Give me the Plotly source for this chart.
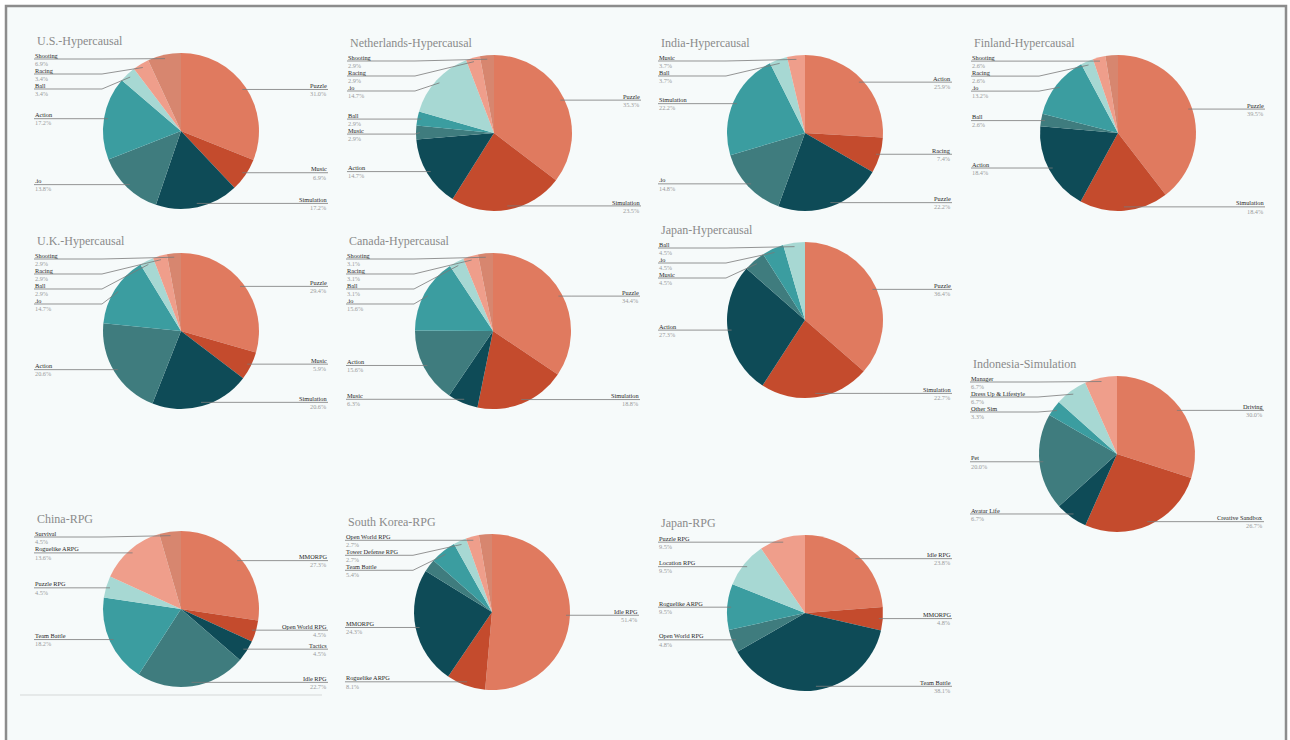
import math
import plotly.graph_objects as go

W, H = 1290, 740

# ---------------- data ----------------
US_LABELS = ["Puzzle", "Music", "Simulation", ".io", "Action", "Ball", "Racing", "Shooting"]
US_VALUES = [31.0, 6.9, 17.2, 13.8, 17.2, 3.4, 3.4, 6.9]

NL_LABELS = ["Puzzle", "Simulation", "Action", "Music", "Ball", ".io", "Racing", "Shooting"]
NL_VALUES = [35.3, 23.5, 14.7, 2.9, 2.9, 14.7, 2.9, 2.9]

IN_LABELS = ["Action", "Racing", "Puzzle", ".io", "Simulation", "Ball", "Music"]
IN_VALUES = [25.9, 7.4, 22.2, 14.8, 22.2, 3.7, 3.7]

FI_LABELS = ["Puzzle", "Simulation", "Action", "Ball", ".io", "Racing", "Shooting", ""]
FI_VALUES = [39.5, 18.4, 18.4, 2.6, 13.2, 2.6, 2.6, 2.6]

UK_LABELS = ["Puzzle", "Music", "Simulation", "Action", ".io", "Ball", "Racing", "Shooting"]
UK_VALUES = [29.4, 5.9, 20.6, 20.6, 14.7, 2.9, 2.9, 2.9]

CA_LABELS = ["Puzzle", "Simulation", "Music", "Action", ".io", "Ball", "Racing", "Shooting"]
CA_VALUES = [34.4, 18.8, 6.3, 15.6, 15.6, 3.1, 3.1, 3.1]

JPH_LABELS = ["Puzzle", "Simulation", "Action", "Music", ".io", "Ball"]
JPH_VALUES = [36.4, 22.7, 27.3, 4.5, 4.5, 4.5]

ID_LABELS = ["Driving", "Creative Sandbox", "Avatar Life", "Pet", "Other Sim",
             "Dress Up & Lifestyle", "Manager"]
ID_VALUES = [30.0, 26.7, 6.7, 20.0, 3.3, 6.7, 6.7]

CN_LABELS = ["MMORPG", "Open World RPG", "Tactics", "Idle RPG", "Team Battle",
             "Puzzle RPG", "Roguelike ARPG", "Survival"]
CN_VALUES = [27.3, 4.5, 4.5, 22.7, 18.2, 4.5, 13.6, 4.5]

KR_LABELS = ["Idle RPG", "Roguelike ARPG", "MMORPG", "", "Team Battle",
             "Tower Defense RPG", "Open World RPG", ""]
KR_VALUES = [51.4, 8.1, 24.3, 2.7, 5.4, 2.7, 2.7, 2.7]

JPR_LABELS = ["Idle RPG", "MMORPG", "Team Battle", "Open World RPG", "Roguelike ARPG",
              "Location RPG", "Puzzle RPG"]
JPR_VALUES = [23.8, 4.8, 38.1, 4.8, 9.5, 9.5, 9.5]

TITLES = ["U.S.-Hypercausal", "Netherlands-Hypercausal", "India-Hypercausal",
          "Finland-Hypercausal", "U.K.-Hypercausal", "Canada-Hypercausal",
          "Japan-Hypercausal", "Indonesia-Simulation", "China-RPG",
          "South Korea-RPG", "Japan-RPG"]

# ---------------- layout / style ----------------
COLORS = ["#E07A5F", "#C44B2D", "#0E4B57", "#3F7C7E", "#3B9DA0",
          "#A7D8D3", "#EF9E8B", "#D7866F"]
R = 78
CENTERS = [(181, 131), (494, 133), (805, 133), (1118, 133),
           (181, 331), (493, 331), (805, 320), (1117, 454),
           (181, 609), (492, 612), (805, 613)]
SERIES = [(US_LABELS, US_VALUES), (NL_LABELS, NL_VALUES), (IN_LABELS, IN_VALUES),
          (FI_LABELS, FI_VALUES), (UK_LABELS, UK_VALUES), (CA_LABELS, CA_VALUES),
          (JPH_LABELS, JPH_VALUES), (ID_LABELS, ID_VALUES), (CN_LABELS, CN_VALUES),
          (KR_LABELS, KR_VALUES), (JPR_LABELS, JPR_VALUES)]

SERIF = "Liberation Serif, Georgia, serif"
LBL_SIZE = 6.3


def px(x):
    return x / W


def py(y):
    return 1 - y / H


fig = go.Figure()
annotations = []
shapes = []

# panel frame
shapes.append(dict(type="rect", xref="paper", yref="paper", layer="below",
                   x0=px(6), x1=px(1286), y0=py(745), y1=py(6),
                   fillcolor="#F6FAFA", line=dict(color="#8C8C8C", width=2.5)))
shapes.append(dict(type="line", xref="paper", yref="paper", layer="below",
                   x0=px(20), x1=px(322), y0=py(695), y1=py(695),
                   line=dict(color="#D5D8D8", width=1)))


def place_labels(cx, cy, labels, values):
    total = float(sum(values))
    cum = 0.0
    items = []
    for lab, v in zip(labels, values):
        mid = (cum + v / 2.0) / total * 2 * math.pi
        cum += v
        if not lab:
            continue
        ax = cx + 0.95 * R * math.sin(mid)
        ay = cy - 0.95 * R * math.cos(mid)
        side = 1 if math.sin(mid) > 1e-9 else -1
        items.append(dict(label=lab, value=v, ax=ax, ay=ay, side=side))
    gap = 15.0
    ymin, ymax = cy - R + 6, cy + R
    for side in (1, -1):
        grp = sorted([it for it in items if it["side"] == side], key=lambda d: d["ay"])
        prev = None
        for it in grp:
            y = max(it["ay"], ymin)
            if prev is not None:
                y = max(y, prev + gap)
            it["ly"] = y
            prev = y
        nxt = None
        for it in reversed(grp):
            y = min(it["ly"], ymax)
            if nxt is not None:
                y = min(y, nxt - gap)
            it["ly"] = y
            nxt = y
    return items


for title, (cx, cy), (labels, values) in zip(TITLES, CENTERS, SERIES):
    fig.add_trace(go.Pie(
        labels=[l if l else " " * (i + 1) for i, l in enumerate(labels)],
        values=values,
        sort=False, direction="clockwise", rotation=0,
        marker=dict(colors=COLORS[:len(values)], line=dict(width=0)),
        textinfo="none", showlegend=False, hoverinfo="label+percent",
        domain=dict(x=[px(cx - R), px(cx + R)], y=[py(cy + R), py(cy - R)]),
    ))
    annotations.append(dict(
        text=title, x=px(cx - 146), y=py(cy - 90), xref="paper", yref="paper",
        xanchor="left", yanchor="middle", showarrow=False,
        font=dict(family=SERIF, size=12, color="#8A8A8A")))
    for it in place_labels(cx, cy, labels, values):
        side = it["side"]
        lx = cx + side * 147
        ly = it["ly"]
        ex = cx + side * (R + 1)
        path = "M {:.5f} {:.5f} L {:.5f} {:.5f} L {:.5f} {:.5f}".format(
            px(lx), py(ly), px(ex), py(ly), px(it["ax"]), py(it["ay"]))
        shapes.append(dict(type="path", xref="paper", yref="paper", layer="above",
                           path=path, line=dict(color="#7A7A7A", width=0.8)))
        anchor = "left" if side < 0 else "right"
        annotations.append(dict(
            text=it["label"], x=px(lx), y=py(ly - 3.9), xref="paper", yref="paper",
            xanchor=anchor, yanchor="middle", showarrow=False, borderpad=0,
            font=dict(family=SERIF, size=LBL_SIZE, color="#262626")))
        annotations.append(dict(
            text="{:.1f}%".format(it["value"]), x=px(lx), y=py(ly + 4.3),
            xref="paper", yref="paper",
            xanchor=anchor, yanchor="middle", showarrow=False, borderpad=0,
            font=dict(family=SERIF, size=LBL_SIZE, color="#9A9A9A")))

fig.update_layout(
    width=W, height=H, margin=dict(l=0, r=0, t=0, b=0),
    paper_bgcolor="#FFFFFF", plot_bgcolor="#FFFFFF",
    annotations=annotations, shapes=shapes,
)

fig.write_html("out.html")
